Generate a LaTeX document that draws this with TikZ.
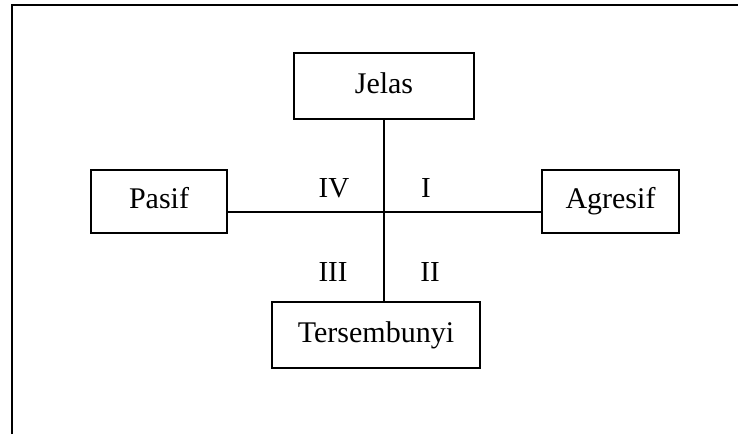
\documentclass[tikz,border=0pt]{standalone}
\usepackage{fontspec}
\setmainfont{Liberation Serif}
\begin{document}
\begin{tikzpicture}[x=1pt,y=1pt,
  box/.style={draw=black, line width=1.5pt, fill=white, inner sep=0pt, text height=20pt, text depth=6pt, font=\fontsize{30}{32}\selectfont},
  quad/.style={inner sep=0pt, text height=20pt, text depth=0pt, font=\fontsize{29}{32}\selectfont},
  link/.style={draw=black, line width=1.4pt}]
\useasboundingbox (0,0) rectangle (738,-434);
\draw[line width=2pt, black] (12,-434) -- (12,-5) -- (738,-5);
\node[box, minimum width=180pt, minimum height=66pt] (jelas) at (384,-86) {Jelas};
\node[box, minimum width=136pt, minimum height=63pt] (pasif) at (159,-201.5) {Pasif};
\node[box, minimum width=137pt, minimum height=63pt] (agresif) at (610.5,-201.5) {Agresif};
\node[box, minimum width=208pt, minimum height=66pt] (ters) at (376,-335) {Tersembunyi};
\draw[link] (jelas.south) -- (jelas.south |- ters.north);
\draw[link] ([yshift=-10.5pt]pasif.east) -- ([yshift=-10.5pt]agresif.west);
\node[quad] (q4) at (334,-187) {IV};
\node[quad] (q1) at (426,-187) {I};
\node[quad] (q3) at (333,-271) {III};
\node[quad] (q2) at (430,-271) {II};
\end{tikzpicture}
\end{document}
